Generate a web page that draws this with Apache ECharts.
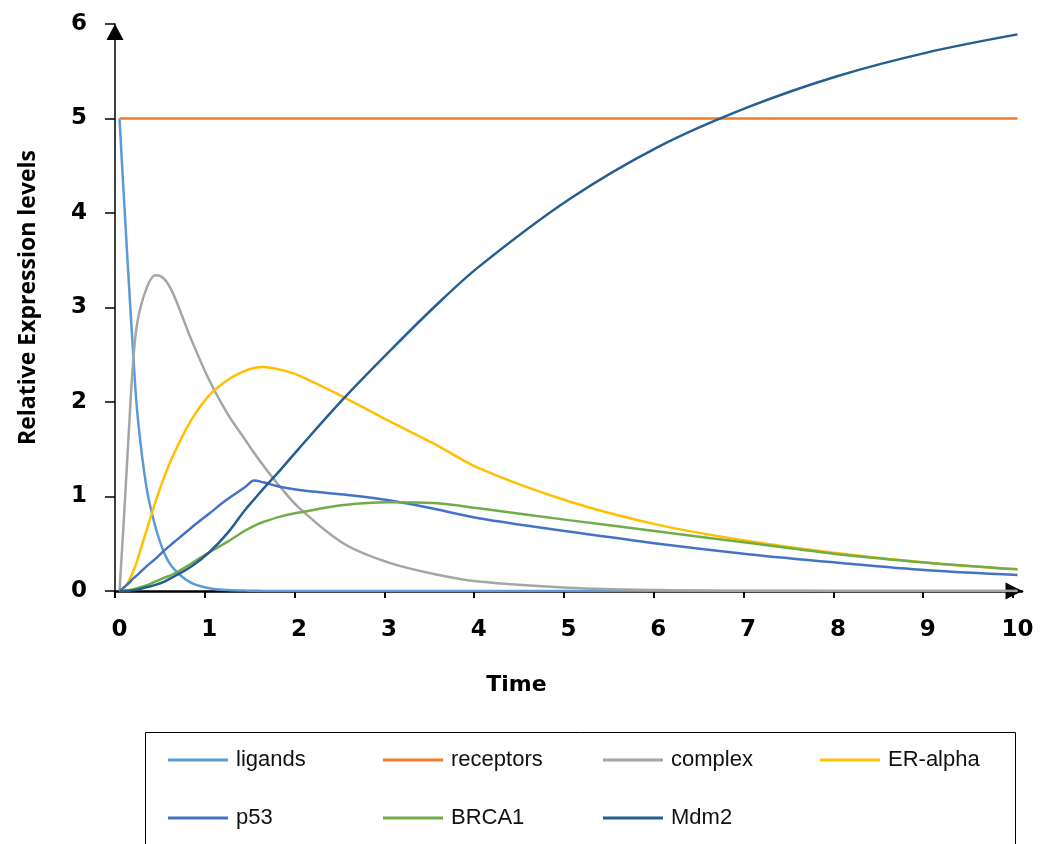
<!DOCTYPE html>
<html>
<head>
<meta charset="utf-8">
<script src="https://cdn.jsdelivr.net/npm/echarts@6/dist/echarts.min.js"></script>
<style>
html,body{margin:0;padding:0;background:#fff;}
#chart{width:1050px;height:844px;}
</style>
</head>
<body>
<div id="chart"></div>
<script>
// ---- data ----
const times    = [0, 0.05, 0.1, 0.15, 0.2, 0.3, 0.4, 0.5, 0.6, 0.8, 1.0, 1.2, 1.4, 1.5, 1.6, 1.8, 2.0, 2.5, 3.0, 3.5, 4.0, 5.0, 6.0, 7.0, 8.0, 9.0, 10.0];
const ligands  = [5.0, 4.15, 3.33, 2.55, 1.87, 1.10, 0.68, 0.40, 0.24, 0.085, 0.03, 0.01, 0.004, 0.002, 0.001, 0, 0, 0, 0, 0, 0, 0, 0, 0, 0, 0, 0];
const receptors= [5, 5, 5, 5, 5, 5, 5, 5, 5, 5, 5, 5, 5, 5, 5, 5, 5, 5, 5, 5, 5, 5, 5, 5, 5, 5, 5];
const complex  = [0, 0.78, 1.62, 2.40, 2.85, 3.20, 3.34, 3.30, 3.14, 2.66, 2.23, 1.88, 1.60, 1.46, 1.33, 1.09, 0.88, 0.50, 0.30, 0.18, 0.10, 0.035, 0.01, 0.003, 0.001, 0, 0];
const erAlpha  = [0, 0.03, 0.10, 0.20, 0.33, 0.64, 0.94, 1.21, 1.44, 1.81, 2.07, 2.23, 2.33, 2.36, 2.37, 2.34, 2.28, 2.05, 1.80, 1.56, 1.30, 0.95, 0.70, 0.53, 0.40, 0.30, 0.23];
const p53      = [0, 0.04, 0.08, 0.13, 0.17, 0.26, 0.34, 0.43, 0.51, 0.67, 0.82, 0.97, 1.10, 1.17, 1.15, 1.10, 1.07, 1.02, 0.96, 0.87, 0.77, 0.63, 0.50, 0.39, 0.30, 0.22, 0.17];
const brca1    = [0, 0.002, 0.008, 0.018, 0.03, 0.06, 0.10, 0.14, 0.18, 0.29, 0.41, 0.52, 0.64, 0.69, 0.73, 0.79, 0.83, 0.91, 0.94, 0.93, 0.875, 0.75, 0.63, 0.51, 0.39, 0.30, 0.23];
const mdm2     = [0, 0.001, 0.003, 0.007, 0.015, 0.04, 0.065, 0.10, 0.15, 0.26, 0.41, 0.61, 0.86, 0.97, 1.08, 1.29, 1.51, 2.04, 2.53, 3.00, 3.43, 4.14, 4.70, 5.12, 5.45, 5.70, 5.89];

const seriesNames  = ['ligands', 'receptors', 'complex', 'ER-alpha', 'p53', 'BRCA1', 'Mdm2'];
const seriesValues = [ligands, receptors, complex, erAlpha, p53, brca1, mdm2];
const xTickLabels  = [0, 1, 2, 3, 4, 5, 6, 7, 8, 9, 10];
const yTickLabels  = [0, 1, 2, 3, 4, 5, 6];

// ---- styles ----
const colors = ['#5B9BD5', '#ED7D31', '#A5A5A5', '#FFC000', '#4472C4', '#70AD47', '#255E91'];
const halfStep = 0.05;
const legendPos = [
  {left: 168, top: 748}, {left: 383, top: 748}, {left: 603, top: 748}, {left: 820, top: 748},
  {left: 168, top: 806}, {left: 383, top: 806}, {left: 603, top: 806}
];
const tickFont = {fontFamily: 'DejaVu Sans', fontWeight: 'bold', fontSize: 23, color: '#000'};

const chart = echarts.init(document.getElementById('chart'), null, {renderer: 'canvas'});

const option = {
  animation: false,
  backgroundColor: '#fff',
  grid: {left: 115, right: 28, top: 24, bottom: 253, containLabel: false},
  xAxis: {
    type: 'value',
    min: xTickLabels[0] - halfStep,
    max: xTickLabels[xTickLabels.length - 1] + halfStep,
    name: 'Time',
    nameLocation: 'middle',
    nameGap: 83,
    nameTextStyle: Object.assign({}, tickFont, {fontSize: 22, padding: [0, 104, 0, 0]}),
    axisLine: {
      show: true, onZero: false,
      lineStyle: {color: '#000', width: 2.5},
      symbol: ['none', 'triangle'], symbolSize: [17, 17], symbolOffset: [0, -8]
    },
    axisTick: {show: true, inside: false, length: 7, lineStyle: {color: '#000', width: 2},
      customValues: xTickLabels.map(v => v - halfStep)},
    axisLabel: Object.assign({}, tickFont, {margin: 28, customValues: xTickLabels}),
    splitLine: {show: false}
  },
  yAxis: {
    type: 'value',
    min: yTickLabels[0],
    max: yTickLabels[yTickLabels.length - 1],
    interval: 1,
    name: 'Relative Expression levels',
    nameLocation: 'middle',
    nameGap: 75,
    nameTextStyle: {fontFamily: 'Open Sans', fontWeight: 'bold', fontSize: 23, color: '#000', padding: [0, 0, 0, 20]},
    axisLine: {
      show: true, onZero: false,
      lineStyle: {color: '#000', width: 1.5},
      symbol: ['none', 'triangle'], symbolSize: [17, 16], symbolOffset: [0, -8]
    },
    axisTick: {show: true, inside: false, length: 10, lineStyle: {color: '#000', width: 1.5}},
    axisLabel: Object.assign({}, tickFont, {margin: 28}),
    splitLine: {show: false}
  },
  legend: seriesNames.map((name, i) => ({
    data: [name],
    left: legendPos[i].left,
    top: legendPos[i].top,
    orient: 'horizontal',
    padding: 0,
    icon: 'rect',
    itemWidth: 60,
    itemHeight: 3,
    selectedMode: false,
    textStyle: {fontFamily: 'Liberation Sans', fontSize: 22, color: '#111', lineHeight: 24, padding: [0, 0, 0, 3]}
  })),
  graphic: [{
    type: 'rect',
    shape: {x: 145.5, y: 732.5, width: 870, height: 140},
    style: {fill: 'none', stroke: '#000', lineWidth: 1},
    silent: true, z: 0
  }],
  series: seriesNames.map((name, i) => ({
    name: name,
    type: 'line',
    data: times.map((t, k) => [t, seriesValues[i][k]]),
    smooth: 0.35,
    symbol: 'none',
    showSymbol: false,
    color: colors[i],
    lineStyle: {color: colors[i], width: 2.5},
    z: 2 + i * 0.01
  }))
};

chart.setOption(option);
</script>
</body>
</html>
